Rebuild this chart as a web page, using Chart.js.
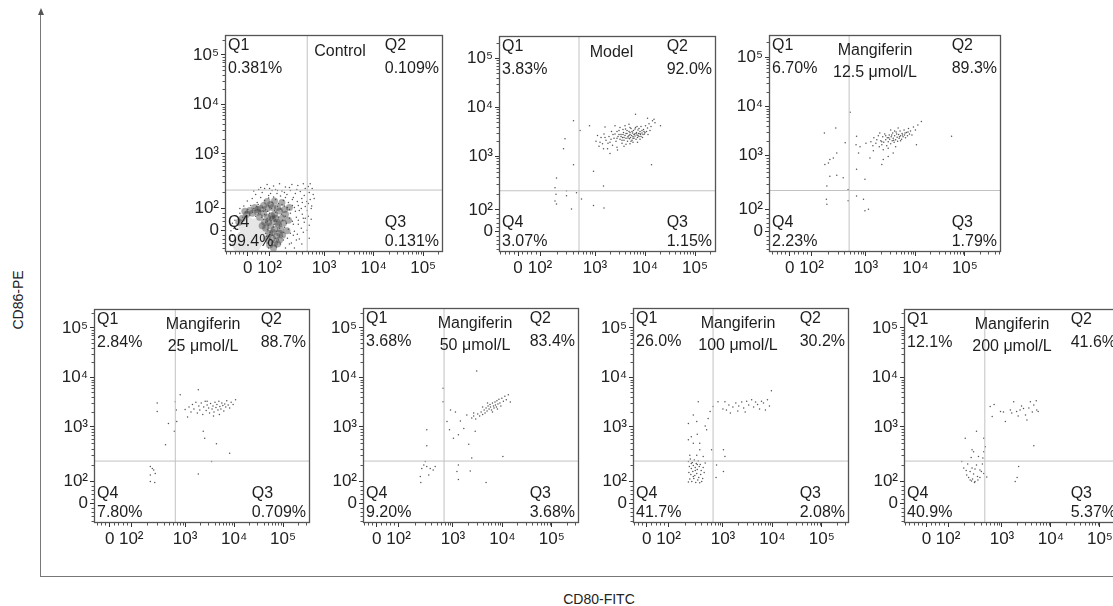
<!DOCTYPE html>
<html>
<head>
<meta charset="utf-8">
<script src="https://cdn.jsdelivr.net/npm/chart.js@4.4.1/dist/chart.umd.min.js"></script>
<style>
  html, body { margin: 0; padding: 0; background: #fff; width: 1113px; height: 606px; overflow: hidden; }
  body { position: relative; font-family: "Liberation Sans", Arial, sans-serif; }
  canvas { position: absolute; }
  #frame { position: absolute; left: 40px; top: 12px; width: 1090px; height: 564px;
           border-left: 1.5px solid #777; border-bottom: 1.5px solid #777; }
  #arrow { position: absolute; left: 38px; top: 8px; width: 0; height: 0;
           border-left: 3px solid transparent; border-right: 3px solid transparent; border-bottom: 7px solid #555; }
  .axtitle { position: absolute; font-size: 14px; color: #222; white-space: nowrap; }
  #ytitle { left: 18px; top: 300px; transform: translate(-50%, -50%) rotate(-90deg); }
  #xtitle { left: 599px; top: 599px; transform: translate(-50%, -50%); }
</style>
</head>
<body>
<div id="frame"></div>
<div id="arrow"></div>
<div class="axtitle" id="ytitle">CD86-PE</div>
<div class="axtitle" id="xtitle">CD80-FITC</div>

<script>
// ---------------- DATA (display units: 0 ≈ 1.46, 10² ≈ 1.9, 10³ = 3, 10⁴ = 4, 10⁵ = 5) ----------------
const TICK_POS = [1.46, 1.9, 3, 4, 5];
const TICK_LABELS = ['0', '10²', '10³', '10⁴', '10⁵'];

const TITLES = [
  ['Control'], ['Model'], ['Mangiferin', '12.5 μmol/L'],
  ['Mangiferin', '25 μmol/L'], ['Mangiferin', '50 μmol/L'],
  ['Mangiferin', '100 μmol/L'], ['Mangiferin', '200 μmol/L']
];
const Q1_PCT = ['0.381%', '3.83%', '6.70%', '2.84%', '3.68%', '26.0%', '12.1%'];
const Q2_PCT = ['0.109%', '92.0%', '89.3%', '88.7%', '83.4%', '30.2%', '41.6%'];
const Q3_PCT = ['0.131%', '1.15%', '1.79%', '0.709%', '3.68%', '2.08%', '5.37%'];
const Q4_PCT = ['99.4%', '3.07%', '2.23%', '7.80%', '9.20%', '41.7%', '40.9%'];
const GATE_X = [2.66, 2.68, 2.66, 2.80, 2.82, 2.80, 2.65];
const GATE_Y = [2.27, 2.29, 2.29, 2.31, 2.31, 2.31, 2.31];

const CONTROL_PTS = [
  [1.72,2.32],[1.85,2.38],[1.98,2.35],[2.10,2.40],[2.22,2.33],[2.35,2.38],[2.47,2.36],[2.58,2.40],[2.68,2.34],[2.76,2.30],
  [1.62,2.18],[1.75,2.22],[1.88,2.16],[1.95,2.26],[2.05,2.20],[2.15,2.25],[2.25,2.18],[2.32,2.26],[2.42,2.20],[2.52,2.24],[2.60,2.16],[2.70,2.22],[2.78,2.18],[2.12,2.15],[2.38,2.12],
  [1.45,2.05],[1.55,2.10],[1.65,2.02],[1.72,2.12],[1.80,2.06],[1.88,2.11],[1.95,2.02],[2.02,2.08],[2.08,2.00],[2.18,2.06],[2.28,2.02],[2.36,2.08],[2.46,2.04],[2.55,2.10],[2.65,2.04],[2.72,2.08],[1.98,2.13],[2.22,2.12],
  [1.30,1.90],[1.38,1.95],[1.46,1.88],[1.52,1.96],[1.58,1.90],[1.64,1.94],[1.70,1.86],[1.76,1.92],[1.82,1.88],[1.88,1.96],[1.94,1.90],[2.00,1.86],[2.06,1.94],[2.12,1.89],[2.20,1.95],[2.30,1.88],[2.40,1.92],[2.50,1.86],[2.62,1.94],[2.74,1.90],[1.67,1.98],[1.86,1.84],[2.15,1.98],
  [1.22,1.75],[1.30,1.80],[1.36,1.72],[1.42,1.82],[1.50,1.76],[1.56,1.82],[1.62,1.74],[1.68,1.80],[1.74,1.72],[1.80,1.78],[1.85,1.70],[1.90,1.80],[1.96,1.74],[2.02,1.82],[2.08,1.72],[2.14,1.78],[2.22,1.74],[2.32,1.80],[2.44,1.72],[2.56,1.78],[2.68,1.74],[1.78,1.84],[1.98,1.70],
  [1.15,1.60],[1.20,1.66],[1.82,1.62],[1.88,1.56],[1.93,1.66],[1.99,1.58],[2.04,1.64],[2.10,1.56],[2.16,1.66],[2.24,1.60],[2.36,1.64],[2.48,1.58],[2.60,1.62],[1.78,1.68],[1.86,1.64],[2.70,1.56],
  [1.12,1.45],[1.18,1.50],[1.86,1.48],[1.92,1.42],[1.98,1.52],[2.04,1.44],[2.10,1.50],[2.18,1.42],[2.28,1.48],[2.40,1.44],[2.54,1.50],[1.82,1.40],[2.66,1.46],
  [1.10,1.30],[1.15,1.36],[1.84,1.34],[1.90,1.28],[1.96,1.36],[2.02,1.30],[2.08,1.26],[2.16,1.34],[2.26,1.30],[2.38,1.36],[2.50,1.28],
  [1.12,1.15],[1.85,1.20],[1.92,1.14],[1.98,1.22],[2.04,1.12],[2.12,1.18],[2.22,1.10],[2.34,1.20],[1.88,1.10],
  [1.58,2.25],[1.68,2.28],[1.80,2.30],[1.92,2.20],[2.02,2.28],[2.20,2.22],[2.30,2.32],[2.45,2.28],[2.62,2.30],[2.72,2.40],[2.56,2.02],[2.48,1.96],[2.36,1.96],
  [2.26,1.92],[2.42,1.84],[2.54,1.90],[2.66,1.86],[2.58,1.70],[2.48,1.66],[2.38,1.58],[2.30,1.70],[2.20,1.52],[2.32,1.40],[2.46,1.38],[2.58,1.42],[2.44,1.26],
  [2.30,1.18],[2.18,1.26],[2.40,1.10],[2.55,1.18],[2.70,1.30],[2.62,1.70],[2.75,1.95],[2.80,2.10],[2.74,1.68],[2.68,2.00],[2.06,2.26],[1.90,2.30]
];
const CONTROL_HALO = [
  [1.80,1.62],[1.86,1.72],[1.78,1.80],[1.66,1.82],[1.55,1.80],[1.44,1.78],[1.92,1.55],[1.96,1.68],[1.90,1.40],
  [1.86,1.28],[1.90,1.16],[2.00,1.78],[2.05,1.62],[1.72,1.90],[1.85,1.90],[2.10,1.85],[1.96,1.92],[2.15,1.70],
  [2.00,1.48],[1.95,1.30],[1.35,1.70],[1.28,1.62],[2.00,1.20],[2.10,1.40],[2.20,1.88],[1.60,1.92],
  [1.75,1.55],[1.82,1.50],[1.88,1.62],[1.94,1.75],[2.02,1.70],[2.08,1.58],[2.12,1.48],[2.18,1.60],[2.22,1.78],[2.28,1.66],
  [2.06,1.92],[1.92,1.98],[1.78,1.96],[1.66,1.88],[1.50,1.86],[1.40,1.84],[1.70,1.72],[1.96,1.42],[2.04,1.34],[2.10,1.26],
  [1.98,1.10],[2.06,1.18],[2.16,1.36],[2.25,1.45],[2.30,1.92],[2.15,2.02],[2.00,2.05],[1.85,2.04]
];
const CONTROL_CORE = [[1.50,1.40],[1.40,1.28],[1.62,1.30],[1.45,1.55],[1.62,1.52],[1.32,1.18],[1.55,1.18],[1.72,1.40]];

const MODEL_PTS = [
  [3.02,3.30],[3.08,3.20],[3.12,3.38],[3.15,3.25],[3.18,3.45],[3.22,3.32],[3.25,3.15],[3.28,3.40],[3.30,3.28],[3.33,3.50],[3.35,3.22],[3.38,3.36],[3.40,3.45],[3.42,3.30],[3.44,3.18],[3.46,3.40],[3.48,3.52],[3.50,3.34],[3.52,3.44],[3.54,3.26],[3.55,3.38],[3.57,3.48],[3.58,3.32],[3.60,3.42],[3.61,3.55],[3.62,3.36],[3.64,3.46],[3.65,3.30],[3.66,3.40],[3.68,3.50],[3.69,3.35],[3.70,3.44],[3.71,3.38],[3.72,3.56],[3.73,3.42],[3.74,3.32],[3.75,3.47],[3.76,3.40],[3.77,3.52],[3.78,3.36],[3.79,3.45],[3.80,3.41],[3.81,3.58],[3.82,3.34],[3.83,3.48],[3.84,3.43],[3.85,3.38],[3.86,3.53],[3.87,3.46],[3.88,3.40],[3.90,3.50],[3.91,3.44],[3.92,3.60],[3.94,3.47],[3.95,3.38],[3.97,3.54],[3.99,3.45],[4.01,3.62],[4.03,3.50],[4.05,3.57],[4.08,3.66],[4.10,3.52],[4.15,3.72],[4.20,3.68],[3.60,3.62],[3.68,3.65],[3.50,3.58],[3.40,3.62],[3.45,3.12],[3.58,3.20],[3.70,3.25],[3.85,3.28],
  [3.52,3.40],[3.56,3.44],[3.62,3.46],[3.66,3.37],[3.70,3.48],[3.74,3.50],[3.78,3.44],[3.82,3.46],[3.86,3.42],[3.90,3.46],[3.94,3.52],[3.98,3.50],[3.76,3.36],[3.72,3.30],[3.68,3.42],[3.64,3.52],[3.80,3.55],[3.84,3.60],[3.88,3.56],[3.92,3.40],[3.96,3.44],[4.00,3.48],[3.58,3.38],[3.54,3.32],[3.48,3.44],[3.44,3.36],[3.36,3.44],[3.32,3.34],[3.26,3.26],[3.20,3.38],[3.10,3.28],[3.05,3.42],[3.62,3.24],[3.76,3.28],[3.90,3.34],[4.06,3.44],[4.12,3.60],[3.70,3.58],[3.56,3.54],[3.44,3.50],
  [3.81,3.85],[4.05,3.77],[4.18,3.75],[4.31,3.62],[3.20,3.59],[3.17,3.15],[2.89,3.62],[2.70,3.52],[2.57,3.72],[2.40,3.35],[2.37,3.15],[2.57,2.82],[2.97,2.69],[4.13,2.82],[3.30,3.05],
  [2.23,2.55],[2.20,2.35],[2.22,2.22],[2.43,2.29],[2.43,2.19],[2.63,2.25],[2.73,2.12],[2.23,2.02],[2.20,2.08],[2.53,1.92],[2.97,1.99],[3.18,1.94],[3.17,2.39]
];
const MANG12_PTS = [
  [3.10,3.28],[3.14,3.20],[3.16,3.36],[3.20,3.25],[3.22,3.32],[3.25,3.40],[3.27,3.18],[3.30,3.30],[3.32,3.22],[3.34,3.38],[3.36,3.27],[3.38,3.44],[3.40,3.32],[3.42,3.20],[3.43,3.36],[3.45,3.28],[3.47,3.42],[3.48,3.33],[3.50,3.24],[3.51,3.38],[3.53,3.30],[3.54,3.46],[3.55,3.35],[3.57,3.27],[3.58,3.40],[3.60,3.32],[3.61,3.48],[3.63,3.37],[3.64,3.29],[3.66,3.43],[3.67,3.35],[3.69,3.50],[3.70,3.40],[3.72,3.33],[3.73,3.45],[3.75,3.38],[3.77,3.52],[3.78,3.42],[3.80,3.36],[3.82,3.47],[3.84,3.40],[3.86,3.55],[3.88,3.44],[3.90,3.50],[3.93,3.42],[3.96,3.58],[4.00,3.52],[4.02,3.22],[4.05,3.62],[4.12,3.69],[3.35,3.12],[3.45,3.15],[3.60,3.18],[3.28,3.46],[3.50,3.52],[3.65,3.56],
  [3.46,3.36],[3.52,3.42],[3.56,3.31],[3.62,3.44],[3.68,3.38],[3.74,3.42],[3.79,3.46],[3.58,3.50],[3.40,3.40],[3.32,3.28],[3.70,3.30],[3.85,3.48],
  [4.73,3.39],[2.81,3.39],[2.80,3.22],[2.88,3.18],[3.08,2.95],[3.15,3.10],[3.35,2.92],[3.32,2.82],[3.45,2.98],[3.55,3.05],[2.81,2.72],[2.98,2.52],[2.58,3.26],[2.41,3.05],[2.34,2.95],[2.27,2.92],[2.24,2.85],[2.17,2.82],[2.16,3.46],[2.39,3.56],[2.27,2.58],[2.41,2.60],[2.54,2.55],[2.21,2.38],[2.20,2.11],[2.21,2.01],[2.64,2.08],[2.64,2.31],[2.81,2.18],[2.95,2.11],[2.98,1.88],[3.05,1.91],[2.68,3.88],[2.85,3.05],[3.00,3.25]
];
const MANG25_PTS = [
  [3.08,3.40],[3.12,3.30],[3.15,3.45],[3.18,3.36],[3.22,3.50],[3.25,3.28],[3.28,3.42],[3.30,3.34],[3.33,3.48],[3.36,3.25],[3.38,3.40],[3.41,3.52],[3.43,3.33],[3.45,3.44],[3.48,3.38],[3.50,3.28],[3.52,3.47],[3.55,3.36],[3.57,3.42],[3.59,3.30],[3.61,3.50],[3.63,3.39],[3.65,3.45],[3.67,3.34],[3.69,3.52],[3.71,3.41],[3.73,3.36],[3.75,3.48],[3.77,3.43],[3.79,3.32],[3.81,3.46],[3.83,3.40],[3.85,3.53],[3.88,3.44],[3.91,3.38],[3.94,3.50],[3.98,3.45],[4.03,3.55],[3.70,3.25],[3.58,3.22],[3.45,3.52],
  [3.27,3.75],[2.90,3.65],[2.80,3.51],[2.82,3.34],[2.83,3.11],[2.66,3.07],[2.78,2.91],[2.60,2.64],[2.43,3.48],[2.43,3.31],[3.37,2.91],[3.40,2.77],[3.64,2.66],[3.91,2.47],[3.54,2.30],[3.27,2.05],
  [2.29,2.20],[2.36,2.13],[2.39,2.06],[2.29,2.03],[2.29,1.90],[2.38,1.88],[2.33,2.16],[3.05,3.20],[3.00,3.35]
];
const MANG50_PTS = [
  [3.38,3.18],[3.42,3.22],[3.46,3.16],[3.50,3.26],[3.54,3.22],[3.57,3.30],[3.60,3.25],[3.63,3.34],[3.65,3.28],[3.67,3.38],[3.69,3.32],[3.71,3.42],[3.73,3.36],[3.75,3.45],[3.76,3.40],[3.78,3.34],[3.80,3.48],[3.82,3.42],[3.83,3.38],[3.85,3.50],[3.86,3.44],[3.88,3.40],[3.89,3.53],[3.91,3.46],[3.93,3.56],[3.95,3.48],[3.97,3.42],[3.99,3.58],[4.02,3.52],[4.05,3.62],[4.08,3.55],[4.12,3.65],[4.16,3.50],[3.90,3.36],[3.70,3.48],[3.60,3.40],[3.80,3.30],
  [3.48,4.13],[2.80,3.78],[2.80,3.51],[2.95,3.34],[2.88,3.11],[2.93,2.94],[3.01,2.77],[3.11,2.84],[3.22,2.97],[3.28,3.24],[3.42,3.28],[3.45,2.91],[3.32,2.65],[3.38,2.37],[4.01,2.40],[2.47,2.94],[2.47,2.62],[3.11,2.23],[3.08,2.10],[3.35,2.11],[3.11,1.94],[3.67,1.88],
  [2.44,2.30],[2.41,2.23],[2.37,2.16],[2.47,2.20],[2.54,2.16],[2.60,2.13],[2.34,2.00],[2.35,1.88],[2.51,2.03],[2.64,2.20],[3.15,3.12],[3.05,3.30]
];
const MANG100_PTS = [
  [2.80,3.41],[2.90,3.51],[3.04,3.51],[3.07,3.34],[3.12,3.44],[3.20,3.40],[3.26,3.48],[3.32,3.42],[3.38,3.50],[3.42,3.38],[3.48,3.52],[3.52,3.44],[3.58,3.55],[3.62,3.40],[3.66,3.50],[3.70,3.45],[3.74,3.36],[3.78,3.52],[3.82,3.48],[3.86,3.34],[3.90,3.55],[3.94,3.42],[3.98,3.73],[3.45,3.30],[3.30,3.32],[3.00,3.36],[3.15,3.28],
  [2.50,3.51],[2.40,3.24],[2.30,3.07],[2.47,3.11],[2.67,2.94],[2.64,3.02],[2.70,3.17],[2.74,3.31],[2.30,2.74],[2.40,2.67],[2.53,2.67],[2.53,2.54],[2.33,2.43],[2.47,2.43],[2.60,2.40],[2.77,2.54],[3.01,2.54],[3.04,2.40],[2.64,2.27],[2.36,2.80],[2.48,2.85],
  [2.30,2.30],[2.34,2.35],[2.38,2.28],[2.42,2.33],[2.46,2.26],[2.50,2.31],[2.54,2.24],[2.32,2.20],[2.36,2.16],[2.40,2.22],[2.44,2.18],[2.48,2.14],[2.52,2.20],[2.56,2.12],[2.60,2.18],[2.31,2.08],[2.35,2.04],[2.39,2.10],[2.43,2.02],[2.47,2.06],[2.51,1.98],[2.55,2.04],[2.59,1.96],[2.33,1.95],[2.37,1.90],[2.41,1.96],[2.45,1.88],[2.49,1.93],[2.53,1.87],[2.30,1.89],[2.44,2.12],[2.40,2.00],[2.48,2.24],[2.36,2.26],[2.62,2.08],[2.57,1.90],[2.87,2.23],[2.86,1.98],[3.01,2.10]
];
const MANG200_PTS = [
  [2.76,3.41],[2.84,3.45],[2.80,3.21],[2.97,3.31],[3.03,3.30],[3.07,3.11],[3.17,3.34],[3.24,3.51],[3.30,3.31],[3.37,3.34],[3.44,3.37],[3.48,3.24],[3.51,3.14],[3.58,3.51],[3.65,3.44],[3.70,3.53],[3.74,3.31],[3.71,3.34],[3.40,3.42],[3.55,3.38],[3.33,3.22],[3.20,3.28],[3.62,3.30],[3.65,2.62],
  [2.25,2.77],[2.48,2.91],[2.39,2.54],[2.42,2.50],[2.63,2.77],[2.63,2.50],[2.61,2.37],[2.18,2.30],[2.22,2.17],[2.28,2.03],[2.35,1.93],[2.45,1.90],[2.51,1.93],[2.55,2.13],[2.63,2.06],[2.69,1.99],[2.39,2.17],[2.48,2.23],[2.30,2.25],[2.35,2.10],[2.42,2.05],[2.50,2.00],[2.32,1.98],[2.40,1.95],[2.45,2.15],[2.55,1.98],[2.27,2.12],[2.60,2.25],[2.37,2.38],[2.52,2.40],[2.66,2.60],[3.34,2.20],[3.31,1.98],[3.27,1.90],[2.44,1.88],[2.38,1.91],[2.58,2.10]
];
const PANEL_POINTS = [CONTROL_PTS, MODEL_PTS, MANG12_PTS, MANG25_PTS, MANG50_PTS, MANG100_PTS, MANG200_PTS];

// ---------------- LAYOUT (pixel boxes of plot areas and axis ranges) ----------------
const LAYOUT = [
  { area: [225, 35, 443, 252], x: [1.00, 5.40], y: [1.02, 5.40], titleDx: 6 },
  { area: [499, 36, 716, 252], x: [1.08, 5.42], y: [1.04, 5.45], titleDx: 4 },
  { area: [769, 35, 1001, 252], x: [1.04, 5.73], y: [1.04, 5.45], titleDx: -10 },
  { area: [94, 309, 310, 523], x: [1.14, 5.55], y: [1.06, 5.38], titleDx: 1 },
  { area: [363, 308, 579, 523], x: [1.18, 5.55], y: [1.06, 5.40], titleDx: 4 },
  { area: [633, 308, 849, 523], x: [1.18, 5.55], y: [1.06, 5.40], titleDx: -3 },
  { area: [904, 309, 1120, 523], x: [1.00, 5.41], y: [1.06, 5.38], titleDx: 0 }
];
const YW = 50, XH = 36, PT = 14, PR = 14;
const FONT = '"Liberation Sans", Arial, sans-serif';
const TICK_FONT_SIZE = 17;
Chart.defaults.font.family = FONT;
Chart.defaults.font.size = TICK_FONT_SIZE;
Chart.defaults.color = '#222';

function minorPositions(min, max) {
  const out = [];
  for (let j = -6; j <= 4; j++) { const v = TICK_POS[0] + j * 0.088; if (j !== 0 && v > min && v < TICK_POS[1]) out.push(v); }
  for (let m = 2; m <= 9; m++) out.push(TICK_POS[1] + Math.log10(m) * (3 - TICK_POS[1]));
  for (let k = 3; k <= 5; k++) for (let m = 2; m <= 9; m++) { const v = k + Math.log10(m); if (v < max) out.push(v); }
  return out;
}

const panelPlugin = {
  id: 'panelDecor',
  afterDraw(chart) {
    const i = chart.options.plugins.panelDecor.index;
    const ctx = chart.ctx, a = chart.chartArea;
    const xs = chart.scales.x, ys = chart.scales.y;
    ctx.save();
    ctx.strokeStyle = '#555'; ctx.lineWidth = 1;
    ctx.beginPath();
    minorPositions(xs.min, xs.max).forEach(v => {
      const px = Math.round(xs.getPixelForValue(v)) + 0.5;
      ctx.moveTo(px, a.bottom); ctx.lineTo(px, a.bottom + 2.5);
    });
    minorPositions(ys.min, ys.max).forEach(v => {
      const py = Math.round(ys.getPixelForValue(v)) + 0.5;
      ctx.moveTo(a.left, py); ctx.lineTo(a.left - 2.5, py);
    });
    ctx.stroke();
    ctx.strokeStyle = '#555'; ctx.lineWidth = 1.3;
    ctx.strokeRect(a.left + 0.5, a.top + 0.5, a.right - a.left - 1, a.bottom - a.top - 1);
    ctx.fillStyle = '#1e1e1e';
    ctx.font = '16px ' + FONT;
    ctx.textBaseline = 'middle';
    ctx.textAlign = 'left';
    ctx.fillText('Q1', a.left + 3, a.top + 11);
    ctx.fillText(Q1_PCT[i], a.left + 3, a.top + 34);
    ctx.fillText('Q4', a.left + 3, a.bottom - 29);
    ctx.fillText(Q4_PCT[i], a.left + 3, a.bottom - 10);
    const w2 = ctx.measureText(Q2_PCT[i]).width;
    const w3 = ctx.measureText(Q3_PCT[i]).width;
    ctx.fillText('Q2', a.right - 4 - w2, a.top + 11);
    ctx.fillText(Q2_PCT[i], a.right - 4 - w2, a.top + 34);
    ctx.fillText('Q3', a.right - 4 - w3, a.bottom - 29);
    ctx.fillText(Q3_PCT[i], a.right - 4 - w3, a.bottom - 10);
    ctx.textAlign = 'center';
    const cx = (a.left + a.right) / 2 + LAYOUT[i].titleDx;
    const t = TITLES[i];
    if (t.length === 1) ctx.fillText(t[0], cx, a.top + 17);
    else { ctx.fillText(t[0], cx, a.top + 16); ctx.fillText(t[1], cx, a.top + 38); }
    ctx.restore();
  }
};

function axisOpts(range, isX) {
  return {
    type: 'linear', min: range[0], max: range[1],
    afterBuildTicks: s => { s.ticks = TICK_POS.map(v => ({ value: v })); },
    afterFit: s => { if (isX) s.height = XH; else s.width = YW; },
    ticks: {
      callback: (v, idx) => TICK_LABELS[idx],
      autoSkip: false, maxRotation: 0, minRotation: 0,
      font: () => ({ family: FONT, size: TICK_FONT_SIZE }), color: '#222',
      padding: 2
    },
    grid: { drawOnChartArea: false, drawTicks: true, tickLength: 4, color: '#333', lineWidth: 1 },
    border: { display: false }
  };
}

LAYOUT.forEach((L, i) => {
  const [l, t, r, b] = L.area;
  const cv = document.createElement('canvas');
  const w = (r - l) + YW + PR, h = (b - t) + PT + XH;
  cv.width = w; cv.height = h;
  cv.style.left = (l - YW) + 'px'; cv.style.top = (t - PT) + 'px';
  cv.style.width = w + 'px'; cv.style.height = h + 'px';
  document.body.appendChild(cv);

  const datasets = [
    { type: 'line', data: [{ x: GATE_X[i], y: L.y[0] }, { x: GATE_X[i], y: L.y[1] }], borderColor: '#c2c2c2', borderWidth: 1, pointRadius: 0, order: 0 },
    { type: 'line', data: [{ x: L.x[0], y: GATE_Y[i] }, { x: L.x[1], y: GATE_Y[i] }], borderColor: '#c2c2c2', borderWidth: 1, pointRadius: 0, order: 0 },
    { data: PANEL_POINTS[i].map(p => ({ x: p[0], y: p[1] })), pointRadius: 0.75, backgroundColor: '#555', borderWidth: 0, order: 1 }
  ];
  if (i === 0) {
    datasets.push({ data: CONTROL_HALO.map(p => ({ x: p[0], y: p[1] })), pointRadius: 3.5, backgroundColor: 'rgba(55,55,55,0.42)', borderWidth: 0, order: 2 });
    datasets.push({ data: CONTROL_CORE.map(p => ({ x: p[0], y: p[1] })), pointRadius: 9, backgroundColor: '#e6e6e6', borderWidth: 0, order: 3 });
  }

  new Chart(cv.getContext('2d'), {
    type: 'scatter',
    data: { datasets },
    options: {
      responsive: false, animation: false, devicePixelRatio: 1,
      layout: { padding: { top: PT, right: PR, left: 0, bottom: 0 } },
      plugins: { legend: { display: false }, tooltip: { enabled: false }, panelDecor: { index: i } },
      scales: { x: axisOpts(L.x, true), y: axisOpts(L.y, false) }
    },
    plugins: [panelPlugin]
  });
});
</script>
</body>
</html>
